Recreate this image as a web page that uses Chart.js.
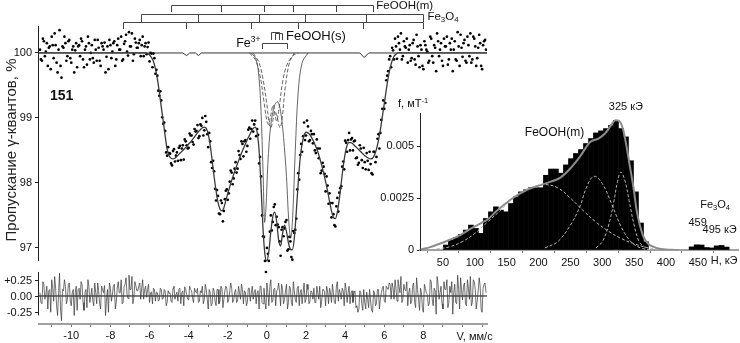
<!DOCTYPE html>
<html>
<head>
<meta charset="utf-8">
<script src="https://cdn.jsdelivr.net/npm/chart.js@4.4.1/dist/chart.umd.min.js"></script>
<style>
body{margin:0;background:#fff;}
#wrap{position:relative;width:740px;height:343px;overflow:hidden;}
#main{position:absolute;left:0;top:0;}
#inset{position:absolute;left:380px;top:90px;}
</style>
</head>
<body>
<div id="wrap">
<canvas id="main" width="740" height="343"></canvas>
<canvas id="inset" width="360" height="185"></canvas>
</div>
<script>
// Mössbauer spectrum, sample 151 : velocity (mm/s) / transmission (%)
// channels of the first half
var vel = [-11.6,-11.5,-11.4,-11.3,-11.2,-11.1,-11,-10.9,-10.8,-10.7,
  -10.6,-10.5,-10.4,-10.3,-10.2,-10.1,-10,-9.9,-9.8,-9.7,
  -9.6,-9.5,-9.4,-9.3,-9.2,-9.1,-9,-8.9,-8.8,-8.7,
  -8.6,-8.5,-8.4,-8.3,-8.2,-8.1,-8,-7.9,-7.8,-7.7,
  -7.6,-7.5,-7.4,-7.3,-7.2,-7.1,-7,-6.9,-6.8,-6.7,
  -6.6,-6.5,-6.4,-6.3,-6.2,-6.1,-6,-5.9,-5.8,-5.7,
  -5.6,-5.5,-5.4,-5.3,-5.2,-5.1,-5,-4.9,-4.8,-4.7,
  -4.6,-4.5,-4.4,-4.3,-4.2,-4.1,-4,-3.9,-3.8,-3.7,
  -3.6,-3.5,-3.4,-3.3,-3.2,-3.1,-3,-2.9,-2.8,-2.7,
  -2.6,-2.5,-2.4,-2.3,-2.2,-2.1,-2,-1.9,-1.8,-1.7,
  -1.6,-1.5,-1.4,-1.3,-1.2,-1.1,-1,-0.9,-0.8,-0.7,
  -0.6,-0.5,-0.4,-0.3,-0.2,-0.1,0,0.1,0.2,0.3,
  0.4,0.5,0.6,0.7,0.8,0.9,1,1.1,1.2,1.3,
  1.4,1.5,1.6,1.7,1.8,1.9,2,2.1,2.2,2.3,
  2.4,2.5,2.6,2.7,2.8,2.9,3,3.1,3.2,3.3,
  3.4,3.5,3.6,3.7,3.8,3.9,4,4.1,4.2,4.3,
  4.4,4.5,4.6,4.7,4.8,4.9,5,5.1,5.2,5.3,
  5.4,5.5,5.6,5.7,5.8,5.9,6,6.1,6.2,6.3,
  6.4,6.5,6.6,6.7,6.8,6.9,7,7.1,7.2,7.3,
  7.4,7.5,7.6,7.7,7.8,7.9,8,8.1,8.2,8.3,
  8.4,8.5,8.6,8.7,8.8,8.9,9,9.1,9.2,9.3,
  9.4,9.5,9.6,9.7,9.8,9.9,10,10.1,10.2,10.3,
  10.4,10.5,10.6,10.7,10.8,10.9,11,11.1,11.2];
var trans = [100.05,99.88,100.18,100.02,99.8,100.1,100.25,99.92,100.12,99.7,
  100.35,99.62,100.08,100.15,99.95,100.2,99.85,100.1,100.04,99.78,
  100.12,100.22,99.9,100.05,99.82,100.15,100.0,99.92,100.2,99.88,
  100.08,99.8,100.1,100.16,99.94,99.75,100.12,100.02,100.18,99.9,
  100.22,100.05,99.88,100.14,100.28,99.96,100.1,100.3,99.98,100.16,
  100.08,100.2,100.12,99.95,100.15,100.09,99.87,99.99,99.99,99.68,
  99.65,99.34,99.27,98.91,98.8,98.42,98.46,98.3,98.49,98.33,
  98.47,98.54,98.35,98.58,98.67,98.58,98.54,98.73,98.63,98.83,
  98.8,98.69,98.9,99.0,98.81,98.94,98.55,98.64,98.23,98.18,
  97.73,97.8,97.52,97.69,97.57,97.88,97.74,98.02,98.16,98.07,
  98.32,98.22,98.43,98.64,98.41,98.66,98.57,98.85,98.83,98.79,
  98.96,98.83,98.3,98.1,97.18,96.8,97.0,96.8,97.5,97.4,
  97.67,97.48,97.32,96.88,97.32,97.3,97.43,96.98,97.1,96.82,
  97.23,97.45,98.15,98.43,98.48,98.93,98.73,98.87,98.66,98.75,
  98.75,98.46,98.53,98.53,98.19,98.25,97.87,97.96,97.84,97.47,
  97.52,97.33,97.77,97.85,97.95,98.33,98.65,98.48,98.77,98.67,
  98.5,98.65,98.39,98.31,98.53,98.23,98.32,98.46,98.2,98.29,
  98.13,98.48,98.4,98.75,98.77,99.14,99.14,99.58,99.72,99.95,
  100.08,99.9,100.1,100.25,100.05,99.9,100.18,100.08,99.85,100.12,
  99.92,100.2,99.82,100.1,99.78,100.05,99.75,100.12,100.02,99.88,
  100.22,99.85,100.08,100.3,99.95,100.15,99.8,100.1,100.25,99.9,
  100.05,99.72,100.18,99.88,100.1,100.28,99.94,100.2,99.85,100.12,
  100.3,99.9,100.22,99.8,100.08,100.15,99.75,100.18,100.05];
var resid = [0.05,-0.12,0.18,0.02,-0.2,0.1,0.25,-0.08,0.12,-0.3,
  0.35,-0.38,0.08,0.15,-0.05,0.2,-0.15,0.1,0.04,-0.22,
  0.12,0.22,-0.1,0.05,-0.18,0.15,0.0,-0.08,0.2,-0.12,
  0.08,-0.2,0.1,0.16,-0.06,-0.25,0.12,0.02,0.18,-0.1,
  0.22,0.05,-0.12,0.14,0.28,-0.04,0.1,0.3,-0.02,0.16,
  0.08,0.2,0.12,-0.05,0.15,0.1,-0.1,0.06,0.12,-0.08,
  0.05,-0.06,0.1,-0.04,0.08,-0.1,0.04,-0.08,0.12,-0.05,
  0.06,0.1,-0.12,0.08,0.14,0.02,-0.06,0.1,-0.04,0.12,
  0.05,-0.1,0.08,0.15,-0.05,0.1,-0.2,0.06,-0.12,0.08,
  -0.15,0.1,-0.08,0.12,-0.05,0.15,-0.1,0.08,0.12,-0.06,
  0.1,-0.08,0.05,0.18,-0.12,0.06,-0.1,0.12,0.04,-0.05,
  0.1,0.05,-0.2,0.15,-0.12,-0.1,0.2,-0.15,0.25,-0.08,
  0.12,0.08,0.2,-0.15,0.1,-0.05,0.18,-0.1,0.12,-0.15,
  0.08,-0.1,0.15,0.05,-0.12,0.2,-0.05,0.1,-0.08,0.06,
  0.12,-0.1,0.05,0.15,-0.08,0.1,-0.15,0.08,0.12,-0.1,
  0.05,-0.12,0.22,0.1,-0.05,0.08,0.2,-0.1,0.15,0.05,
  -0.1,0.08,-0.15,-0.2,0.05,-0.22,-0.1,0.06,-0.18,-0.08,
  -0.25,0.05,-0.12,0.1,-0.05,0.12,-0.08,0.15,0.1,0.18,
  0.2,-0.05,0.12,0.25,0.05,-0.1,0.18,0.08,-0.15,0.12,
  -0.08,0.2,-0.18,0.1,-0.22,0.05,-0.25,0.12,0.02,-0.12,
  0.22,-0.15,0.08,0.3,-0.05,0.15,-0.2,0.1,0.25,-0.1,
  0.05,-0.28,0.18,-0.12,0.1,0.28,-0.06,0.2,-0.15,0.12,
  0.3,-0.1,0.22,-0.2,0.08,0.15,-0.25,0.18,0.05];
// channels of the second half
var vel2 = [-11.55,-11.45,-11.35,-11.25,-11.15,-11.05,-10.95,-10.85,-10.75,-10.65,
  -10.55,-10.45,-10.35,-10.25,-10.15,-10.05,-9.95,-9.85,-9.75,-9.65,
  -9.55,-9.45,-9.35,-9.25,-9.15,-9.05,-8.95,-8.85,-8.75,-8.65,
  -8.55,-8.45,-8.35,-8.25,-8.15,-8.05,-7.95,-7.85,-7.75,-7.65,
  -7.55,-7.45,-7.35,-7.25,-7.15,-7.05,-6.95,-6.85,-6.75,-6.65,
  -6.55,-6.45,-6.35,-6.25,-6.15,-6.05,-5.95,-5.85,-5.75,-5.65,
  -5.55,-5.45,-5.35,-5.25,-5.15,-5.05,-4.95,-4.85,-4.75,-4.65,
  -4.55,-4.45,-4.35,-4.25,-4.15,-4.05,-3.95,-3.85,-3.75,-3.65,
  -3.55,-3.45,-3.35,-3.25,-3.15,-3.05,-2.95,-2.85,-2.75,-2.65,
  -2.55,-2.45,-2.35,-2.25,-2.15,-2.05,-1.95,-1.85,-1.75,-1.65,
  -1.55,-1.45,-1.35,-1.25,-1.15,-1.05,-0.95,-0.85,-0.75,-0.65,
  -0.55,-0.45,-0.35,-0.25,-0.15,-0.05,0.05,0.15,0.25,0.35,
  0.45,0.55,0.65,0.75,0.85,0.95,1.05,1.15,1.25,1.35,
  1.45,1.55,1.65,1.75,1.85,1.95,2.05,2.15,2.25,2.35,
  2.45,2.55,2.65,2.75,2.85,2.95,3.05,3.15,3.25,3.35,
  3.45,3.55,3.65,3.75,3.85,3.95,4.05,4.15,4.25,4.35,
  4.45,4.55,4.65,4.75,4.85,4.95,5.05,5.15,5.25,5.35,
  5.45,5.55,5.65,5.75,5.85,5.95,6.05,6.15,6.25,6.35,
  6.45,6.55,6.65,6.75,6.85,6.95,7.05,7.15,7.25,7.35,
  7.45,7.55,7.65,7.75,7.85,7.95,8.05,8.15,8.25,8.35,
  8.45,8.55,8.65,8.75,8.85,8.95,9.05,9.15,9.25,9.35,
  9.45,9.55,9.65,9.75,9.85,9.95,10.05,10.15,10.25,10.35,
  10.45,10.55,10.65,10.75,10.85,10.95,11.05,11.15];
var trans2 = [99.9,100.22,99.95,100.15,100.08,99.75,100.12,100.3,99.85,100.05,
  99.8,100.1,100.25,99.88,100.18,99.92,100.05,99.7,100.15,100.1,
  99.95,100.18,99.78,100.1,100.25,99.9,100.12,99.85,100.05,100.2,
  99.88,100.15,100.05,99.7,100.1,100.2,99.92,100.15,99.8,100.12,
  100.05,100.25,99.9,100.18,100.02,100.32,100.1,99.88,100.22,100.08,
  100.15,99.95,100.25,100.1,99.98,100.16,100.0,99.78,99.92,99.74,
  99.42,99.41,99.01,98.93,98.47,98.55,98.45,98.27,98.52,98.42,
  98.34,98.57,98.53,98.36,98.64,98.53,98.76,98.73,98.59,98.79,
  98.89,98.72,98.88,98.73,99.03,98.75,98.77,98.32,98.34,97.91,
  97.89,97.53,97.73,97.41,97.75,97.9,97.84,98.19,97.98,98.22,
  98.16,98.49,98.37,98.6,98.64,98.48,98.82,98.68,98.96,98.9,
  98.72,98.74,98.4,97.5,97.17,96.63,96.91,97.25,97.27,97.63,
  97.35,97.36,97.1,97.28,97.18,97.4,96.96,97.17,96.86,97.26,
  97.28,97.9,98.05,98.6,98.72,98.66,98.96,98.64,98.8,98.61,
  98.5,98.67,98.38,98.15,98.31,98.14,98.1,97.68,97.69,97.69,
  97.35,97.64,97.56,97.92,98.25,98.21,98.62,98.66,98.5,98.69,
  98.64,98.38,98.28,98.58,98.35,98.54,98.21,98.34,98.48,98.15,
  98.48,98.32,98.68,98.53,98.97,99.27,99.23,99.65,99.9,99.78,
  100.04,100.22,99.91,100.15,100.3,99.95,100.1,100.22,100.05,99.88,
  100.15,99.9,100.28,99.95,100.12,99.8,100.18,100.05,99.85,100.25,
  99.95,100.12,99.72,100.18,100.05,99.88,100.22,100.1,99.82,100.15,
  100.22,100.05,99.9,100.32,99.8,100.08,100.15,99.88,100.25,99.95,
  99.85,100.25,100.1,99.92,100.28,99.8,100.12,100.2];
var resid2 = [-0.1,0.22,-0.05,0.15,0.08,-0.25,0.12,0.3,-0.15,0.05,
  -0.2,0.1,0.25,-0.12,0.18,-0.08,0.05,-0.3,0.15,0.1,
  -0.05,0.18,-0.22,0.1,0.25,-0.1,0.12,-0.15,0.05,0.2,
  -0.12,0.15,0.05,-0.3,0.1,0.2,-0.08,0.15,-0.2,0.12,
  0.05,0.25,-0.1,0.18,0.02,0.32,0.1,-0.12,0.22,0.08,
  0.15,-0.05,0.25,0.1,-0.02,0.18,0.05,-0.12,0.1,0.06,
  -0.08,0.12,-0.05,0.1,-0.15,0.08,0.05,-0.1,0.15,0.02,
  -0.08,0.12,0.05,-0.15,0.1,-0.05,0.15,0.08,-0.1,0.06,
  0.12,-0.08,0.05,-0.12,0.18,-0.05,0.1,-0.15,0.12,-0.08,
  0.1,-0.12,0.15,-0.18,0.08,0.12,-0.05,0.2,-0.1,0.05,
  -0.1,0.15,-0.05,0.1,0.08,-0.15,0.12,-0.08,0.15,0.05,
  -0.12,0.08,0.15,-0.1,0.12,-0.2,0.05,0.15,-0.1,0.1,
  -0.15,0.1,0.05,0.18,-0.12,0.08,-0.2,0.15,-0.1,0.22,
  -0.05,0.12,-0.15,0.1,0.05,-0.1,0.18,-0.12,0.08,-0.05,
  -0.1,0.15,-0.05,-0.18,0.1,0.05,0.15,-0.12,0.05,0.18,
  -0.1,0.15,-0.08,0.05,0.12,-0.15,0.1,0.05,-0.12,0.08,
  0.05,-0.18,-0.25,0.08,-0.12,0.1,-0.2,-0.05,0.1,-0.22,
  0.08,-0.15,0.1,-0.2,0.05,0.15,-0.1,0.12,0.2,-0.05,
  0.12,0.25,-0.08,0.15,0.3,-0.05,0.1,0.22,0.05,-0.12,
  0.15,-0.1,0.28,-0.05,0.12,-0.2,0.18,0.05,-0.15,0.25,
  -0.05,0.12,-0.28,0.18,0.05,-0.12,0.22,0.1,-0.18,0.15,
  0.22,0.05,-0.1,0.32,-0.2,0.08,0.15,-0.12,0.25,-0.05,
  -0.15,0.25,0.1,-0.08,0.28,-0.2,0.12,0.2];

// fitted envelope
var fitV = [-11.65,-6.3,
  -6.2,-6.1,-6,-5.9,-5.8,-5.7,-5.6,-5.5,-5.4,-5.3,
  -5.2,-5.1,-5,-4.9,-4.8,-4.7,-4.6,-4.5,-4.4,-4.3,
  -4.2,-4.1,-4,-3.9,-3.8,-3.7,-3.6,-3.5,-3.4,-3.3,
  -3.2,-3.1,-3,-2.9,-2.8,-2.7,-2.6,-2.5,-2.4,-2.3,
  -2.2,-2.1,-2,-1.9,-1.8,-1.7,-1.6,-1.5,-1.4,-1.3,
  -1.2,-1.1,-1,-0.9,-0.8,-0.7,-0.6,-0.5,-0.4,-0.3,
  -0.2,-0.1,0,0.1,0.2,0.3,0.4,0.5,0.6,0.7,
  0.8,0.9,1,1.1,1.2,1.3,1.4,1.5,1.6,1.7,
  1.8,1.9,2,2.1,2.2,2.3,2.4,2.5,2.6,2.7,
  2.8,2.9,3,3.1,3.2,3.3,3.4,3.5,3.6,3.7,
  3.8,3.9,4,4.1,4.2,4.3,4.4,4.5,4.6,4.7,
  4.8,4.9,5,5.1,5.2,5.3,5.4,5.5,5.6,5.7,
  5.8,5.9,6,6.1,6.2,6.3,6.4,6.5,6.6,6.7,
  11.25];
var fitT = [100,100,
  100,99.99,99.97,99.93,99.87,99.76,99.6,99.4,99.17,98.95,
  98.72,98.52,98.42,98.38,98.37,98.38,98.41,98.44,98.47,98.5,
  98.53,98.56,98.6,98.63,98.67,98.71,98.75,98.79,98.82,98.85,
  98.86,98.84,98.75,98.58,98.35,98.1,97.88,97.7,97.6,97.57,
  97.62,97.73,97.84,97.94,98.04,98.13,98.22,98.3,98.38,98.46,
  98.53,98.6,98.67,98.73,98.79,98.84,98.86,98.78,98.5,97.95,
  97.3,96.9,96.8,96.95,97.25,97.48,97.55,97.4,97.12,97.03,
  97.22,97.35,97.25,97.08,96.98,96.97,97.15,97.55,98.0,98.38,
  98.6,98.73,98.78,98.77,98.74,98.69,98.63,98.56,98.48,98.38,
  98.27,98.15,98.02,97.88,97.72,97.57,97.47,97.45,97.55,97.75,
  98.0,98.25,98.45,98.58,98.62,98.62,98.6,98.57,98.54,98.51,
  98.48,98.45,98.42,98.4,98.38,98.37,98.38,98.43,98.52,98.65,
  98.82,99.02,99.22,99.43,99.62,99.77,99.88,99.95,99.98,100,
  100];

// sub-spectra
var baseV = [-11.65,-4.3,-4.1,-3.95,-3.65,-3.5,-3.35,4.75,4.97,5.2,11.25];
var baseT = [100,100,99.96,100,100,99.96,100,100,99.93,100,100];
var compSV = [-0.8,-0.55,-0.4,-0.3,-0.2,-0.12,-0.05,0.05,0.2,0.4,0.55,0.7,0.85,1.0,1.12,1.22,1.32,1.45,1.6,1.8,2.1];
var compST = [100,99.9,99.6,99.1,98.2,97.4,97.6,98.3,98.9,99.2,99.25,99.1,98.7,98.1,97.4,97.15,97.5,98.5,99.4,99.85,100];
var compD1V = [-0.7,-0.4,-0.2,0,0.12,0.2,0.3,0.4,0.5,0.6,0.68,0.78,0.95,1.15,1.4];
var compD1T = [100,99.85,99.6,99.2,98.9,98.85,98.95,99.1,99.05,98.9,98.85,99.0,99.5,99.85,100];
var compD2V = [-0.9,-0.6,-0.35,-0.15,0,0.08,0.2,0.32,0.42,0.5,0.6,0.8,1.0,1.3,1.6];
var compD2T = [100,99.9,99.65,99.25,98.95,98.9,99.05,99.2,99.05,98.95,99.1,99.55,99.8,99.95,100];

// line positions (stick diagrams), mm/s
var stickFeOOHm = [-4.92,-2.36,-0.15,1.33,3.54,5.44];
var stickFe3O4B = [-6.46,-3.54,-0.41,1.95,5.08,8.0];
var stickFe3O4A = [-7.38,-4.15,-0.82,1.59,4.92,8.0];
var bracketFe3 = [-0.26,1.03];
var bracketFeOOHsA = [0.2,0.62];
var bracketFeOOHsB = [0.41,0.77];

var velRange = [-11.65, 11.25];
var transRange = [95.83, 100.415];
var residRange = [-0.431, 4.154];
var mainYTicks = [97, 98, 99, 100];
var mainAxisSpan = [96.8, 100.415];
var residTicks = [0.25, 0, -0.25];
var residLabels = ['+0.25', '0.00', '-0.25'];
var residAxisSpan = [-0.3, 0.37];

// inset: hyperfine field distribution
var histH = [54.6,62.5,70.3,78.2,86,93.9,101.7,109.6,117.4,125.3,133.1,141,148.8,156.7,164.5,172.4,180.2,188.1,195.9,203.8,
  211.6,219.5,227.3,235.2,243,250.9,258.7,266.6,274.4,282.3,290.1,298,305.8,313.7,321.5,329.4,337.2,345.1,352.9,360.8,368.6,
  440.2,448.1,455.9,463.8,471.6,479.5,487.3,495.2];
var histF = [0.00024,0.00048,0.0006,0.00075,0.00096,0.0012,0.00104,0.0008,0.00152,0.00184,0.00208,0.00192,0.00184,0.00224,0.00256,0.0028,0.0029,0.003,0.003,0.003,
  0.0036,0.0039,0.0039,0.0037,0.0041,0.0044,0.00465,0.00484,0.00513,0.00537,0.00564,0.00574,0.00585,0.006,0.00625,0.00585,0.00545,0.0043,0.0028,0.0013,0.0004,
  0.00015,0.00025,0.00024,0.00012,0.0001,0.0002,0.00022,0.00014];
var envH = [15,30,45,60,77,95,110,120,135,155,170,182,200,218,235,249,265,281,294,304,312,321,327,333,338,343,349,354,359,364,372,380,390,405,420];
var envF = [0.00002,0.00014,0.0003,0.00048,0.00072,0.00105,0.0013,0.00147,0.0019,0.0024,0.0027,0.0029,0.0031,0.00328,0.0035,0.0039,0.0045,0.0052,0.00537,0.0056,0.00593,0.00625,0.0062,0.00577,0.005,0.0041,0.003,0.0019,0.0012,0.00068,0.0003,0.00016,0.00006,0.00001,0];
var g1H = [40,60,80,100,120,140,160,180,200,210,230,250,270,290,310,330,350,370,390];
var g1F = [0.00005,0.00015,0.0004,0.0008,0.00135,0.0019,0.0025,0.0029,0.00313,0.00316,0.003,0.0025,0.0019,0.00135,0.0009,0.00055,0.0003,0.00012,0.00003];
var g2H = [210,230,250,265,275,287,300,315,330,345,360,375];
var g2F = [0.0001,0.0004,0.0012,0.0021,0.003,0.00355,0.0032,0.0022,0.0011,0.0004,0.0001,0.00002];
var g3H = [290,300,310,318,324,329,335,342,350,358,368];
var g3F = [0.0001,0.0004,0.0012,0.0023,0.0033,0.00375,0.0034,0.0024,0.0012,0.0004,0.0001];
var fieldRange = [14, 513];
var densRange = [0, 0.0066];
var insetXTicks = [50, 100, 150, 200, 250, 300, 350, 400, 450, 500];
var insetYTicks = [0, 0.0025, 0.005];
var insetYLabels = ['0', '0.0025', '0.005'];

var FAM = '"Liberation Sans", Arial, sans-serif';

function pts(xs, ys) {
  return xs.map(function(x, i){ return {x: x, y: ys[i]}; });
}

// both halves together, in velocity order
var allPts = [], residPts = [];
vel.forEach(function(v, i){
  allPts.push({x: v, y: trans[i]});
  residPts.push({x: v, y: resid[i]});
  if (i < vel2.length) {
    allPts.push({x: vel2[i], y: trans2[i]});
    residPts.push({x: vel2[i], y: resid2[i]});
  }
});

// text with sub/superscripts: parts = [[text, shift]], shift 1 = sub, -1 = sup
function richText(ctx, parts, x, y, size, align) {
  var w = 0;
  parts.forEach(function(p){
    ctx.font = (p[1] ? size * 0.68 : size) + 'px ' + FAM;
    w += ctx.measureText(p[0]).width;
  });
  var cx = align === 'right' ? x - w : (align === 'center' ? x - w / 2 : x);
  ctx.textAlign = 'left';
  ctx.textBaseline = 'middle';
  parts.forEach(function(p){
    ctx.font = (p[1] ? size * 0.68 : size) + 'px ' + FAM;
    var dy = p[1] > 0 ? size * 0.28 : (p[1] < 0 ? -size * 0.32 : 0);
    ctx.fillText(p[0], cx, y + dy);
    cx += ctx.measureText(p[0]).width;
  });
}

function seg(ctx, x1, y1, x2, y2) {
  ctx.beginPath(); ctx.moveTo(x1, y1); ctx.lineTo(x2, y2); ctx.stroke();
}

var mainDecor = {
  id: 'mainDecor',
  afterDraw: function(chart) {
    var ctx = chart.ctx, sx = chart.scales.x, sy = chart.scales.y, sr = chart.scales.yr;
    var left = chart.chartArea.left;
    ctx.save();
    ctx.strokeStyle = '#222';
    ctx.fillStyle = '#111';
    ctx.lineWidth = 1;
    // y axis lines (main and residual)
    seg(ctx, left - 0.5, sy.getPixelForValue(mainAxisSpan[1]), left - 0.5, sy.getPixelForValue(mainAxisSpan[0]));
    seg(ctx, left - 0.5, sr.getPixelForValue(residAxisSpan[1]), left - 0.5, sr.getPixelForValue(residAxisSpan[0]));
    ctx.font = '11px ' + FAM;
    ctx.textAlign = 'right';
    ctx.textBaseline = 'middle';
    residTicks.forEach(function(t, i){
      var py = Math.round(sr.getPixelForValue(t)) + 0.5;
      seg(ctx, left - 4, py, left, py);
      ctx.fillText(residLabels[i], left - 7, py);
    });
    // stick diagrams
    var rows = [
      {pos: stickFeOOHm, top: 5.5, bot: 12},
      {pos: stickFe3O4B, top: 14.5, bot: 22},
      {pos: stickFe3O4A, top: 22.5, bot: 29}
    ];
    ctx.strokeStyle = '#444';
    rows.forEach(function(r){
      var px = r.pos.map(function(v){ return Math.round(sx.getPixelForValue(v)) + 0.5; });
      seg(ctx, px[0], r.top, px[px.length - 1], r.top);
      px.forEach(function(p){ seg(ctx, p, r.top, p, r.bot); });
    });
    ctx.fillStyle = '#111';
    var xm = sx.getPixelForValue(stickFeOOHm[5]);
    richText(ctx, [['FeOOH(m)', 0]], xm + 3, 6, 11.5, 'left');
    var xb = sx.getPixelForValue(stickFe3O4B[5]);
    richText(ctx, [['Fe', 0], ['3', 1], ['O', 0], ['4', 1]], xb + 4, 17, 11.5, 'left');
    // Fe3+ bracket
    var b1 = Math.round(sx.getPixelForValue(bracketFe3[0])) + 0.5;
    var b2 = Math.round(sx.getPixelForValue(bracketFe3[1])) + 0.5;
    ctx.beginPath(); ctx.moveTo(b1, 49); ctx.lineTo(b1, 43.5); ctx.lineTo(b2, 43.5); ctx.lineTo(b2, 49); ctx.stroke();
    richText(ctx, [['Fe', 0], ['3+', -1]], b1 - 2, 44, 12.5, 'right');
    // FeOOH(s) brackets
    [bracketFeOOHsA, bracketFeOOHsB].forEach(function(b, i){
      var a1 = Math.round(sx.getPixelForValue(b[0])) + 0.5;
      var a2 = Math.round(sx.getPixelForValue(b[1])) + 0.5;
      var t = 32.5 + i;
      ctx.beginPath(); ctx.moveTo(a1, 40); ctx.lineTo(a1, t); ctx.lineTo(a2, t); ctx.lineTo(a2, 40); ctx.stroke();
    });
    richText(ctx, [['FeOOH(s)', 0]], sx.getPixelForValue(bracketFeOOHsB[1]) + 4, 36, 13, 'left');
    // sample number
    ctx.font = 'bold 14px ' + FAM;
    ctx.textAlign = 'left';
    ctx.textBaseline = 'middle';
    ctx.fillText('151', 50, 96);
    // axis titles
    ctx.font = '11px ' + FAM;
    ctx.fillText('V, мм/с', sx.getPixelForValue(10) - 6, chart.chartArea.bottom + 13);
    ctx.save();
    ctx.translate(12, 150);
    ctx.rotate(-Math.PI / 2);
    ctx.textAlign = 'center';
    ctx.font = '15px ' + FAM;
    ctx.fillStyle = '#222';
    ctx.fillText('Пропускание γ-квантов, %', 0, 0);
    ctx.restore();
    ctx.restore();
  }
};

new Chart(document.getElementById('main'), {
  type: 'scatter',
  data: {
    datasets: [
      {data: pts(fitV, fitT), showLine: true, borderColor: '#3a3a3a', borderWidth: 1.3, pointRadius: 0, cubicInterpolationMode: 'monotone', order: 0},
      {data: allPts, pointRadius: 1.35, pointBackgroundColor: '#000', pointBorderWidth: 0, order: 1},
      {data: residPts, yAxisID: 'yr', showLine: true, borderColor: '#333', borderWidth: 0.7, pointRadius: 0, order: 2},
      {data: pts(velRange, [0, 0]), yAxisID: 'yr', showLine: true, borderColor: '#000', borderWidth: 1, pointRadius: 0, order: 3},
      {data: pts(baseV, baseT), showLine: true, borderColor: '#333', borderWidth: 1, pointRadius: 0, order: 4},
      {data: pts(compSV, compST), showLine: true, borderColor: '#555', borderWidth: 0.9, pointRadius: 0, tension: 0.35, order: 4},
      {data: pts(compD1V, compD1T), showLine: true, borderColor: '#555', borderWidth: 0.9, borderDash: [4, 2], pointRadius: 0, tension: 0.35, order: 4},
      {data: pts(compD2V, compD2T), showLine: true, borderColor: '#555', borderWidth: 0.9, borderDash: [4, 2], pointRadius: 0, tension: 0.35, order: 4}
    ]
  },
  options: {
    responsive: false,
    animation: false,
    devicePixelRatio: 1,
    layout: {padding: {top: 26, right: 253, left: 0, bottom: 0}},
    plugins: {legend: {display: false}, tooltip: {enabled: false}},
    scales: {
      x: {
        type: 'linear', min: velRange[0], max: velRange[1],
        border: {color: '#a0a0a0', width: 2},
        grid: {drawOnChartArea: false, tickLength: 3, color: '#777'},
        ticks: {
          stepSize: 1, autoSkip: false, maxRotation: 0, includeBounds: false, padding: 2,
          color: '#111', font: {size: 11, family: FAM},
          callback: function(v){ var r = Math.round(v); return (r % 2 === 0 && r !== 10) ? String(r) : ''; }
        },
        afterFit: function(s){ s.height = 19; }
      },
      y: {
        min: transRange[0], max: transRange[1],
        border: {display: false},
        grid: {drawOnChartArea: false, tickLength: 4, color: '#222'},
        afterBuildTicks: function(s){ s.ticks = mainYTicks.map(function(v){ return {value: v}; }); },
        ticks: {color: '#111', font: {size: 11, family: FAM}, padding: 3, callback: function(v){ return String(v); }},
        afterFit: function(s){ s.width = 39; }
      },
      yr: {display: false, min: residRange[0], max: residRange[1]}
    }
  },
  plugins: [mainDecor]
});

var insetDecor = {
  id: 'insetDecor',
  afterDraw: function(chart) {
    var ctx = chart.ctx, sx = chart.scales.x;
    ctx.save();
    ctx.fillStyle = '#111';
    richText(ctx, [['f, мТ', 0], ['-1', -1]], 18, 14, 11, 'left');
    richText(ctx, [['FeOOH(m)', 0]], sx.getPixelForValue(225), 43, 12, 'center');
    richText(ctx, [['325 кЭ', 0]], sx.getPixelForValue(337), 17, 11, 'center');
    richText(ctx, [['Fe', 0], ['3', 1], ['O', 0], ['4', 1]], sx.getPixelForValue(477), 115, 11, 'center');
    richText(ctx, [['459', 0]], sx.getPixelForValue(459) - 6, 133, 11, 'center');
    richText(ctx, [['495 кЭ', 0]], sx.getPixelForValue(495) - 24, 140, 11, 'left');
    richText(ctx, [['H, кЭ', 0]], sx.getPixelForValue(500) - 19, chart.chartArea.bottom + 11, 11, 'left');
    ctx.restore();
  }
};

new Chart(document.getElementById('inset'), {
  type: 'bar',
  data: {
    datasets: [
      {type: 'line', data: pts(envH, envF), borderColor: '#8c8c8c', borderWidth: 2, pointRadius: 0, cubicInterpolationMode: 'monotone', order: 0},
      {type: 'line', data: pts(g1H, g1F), borderColor: '#b5b5b5', borderWidth: 1, borderDash: [3, 2], pointRadius: 0, tension: 0.4, order: 1},
      {type: 'line', data: pts(g2H, g2F), borderColor: '#b5b5b5', borderWidth: 1, borderDash: [3, 2], pointRadius: 0, tension: 0.4, order: 1},
      {type: 'line', data: pts(g3H, g3F), borderColor: '#b5b5b5', borderWidth: 1, borderDash: [3, 2], pointRadius: 0, tension: 0.4, order: 1},
      {type: 'bar', data: pts(histH, histF), backgroundColor: '#000', barPercentage: 1, categoryPercentage: 1, order: 5}
    ]
  },
  options: {
    responsive: false,
    animation: false,
    devicePixelRatio: 1,
    layout: {padding: {top: 23, right: 2, left: 0, bottom: 0}},
    plugins: {legend: {display: false}, tooltip: {enabled: false}},
    scales: {
      x: {
        type: 'linear', min: fieldRange[0], max: fieldRange[1], offset: false,
        border: {color: '#a0a0a0', width: 2},
        grid: {drawOnChartArea: false, tickLength: 3, color: '#777'},
        afterBuildTicks: function(s){ s.ticks = insetXTicks.map(function(v){ return {value: v}; }); },
        ticks: {
          autoSkip: false, maxRotation: 0, padding: 3,
          color: '#111', font: {size: 11, family: FAM},
          callback: function(v){ return v >= 500 ? '' : String(v); }
        },
        afterFit: function(s){ s.height = 25; }
      },
      y: {
        min: densRange[0], max: densRange[1],
        border: {color: '#222', width: 1},
        grid: {drawOnChartArea: false, tickLength: 3, color: '#222'},
        afterBuildTicks: function(s){ s.ticks = insetYTicks.map(function(v){ return {value: v}; }); },
        ticks: {color: '#111', font: {size: 11, family: FAM}, padding: 3,
          callback: function(v){ return insetYLabels[insetYTicks.indexOf(v)]; }},
        afterFit: function(s){ s.width = 40; }
      }
    }
  },
  plugins: [insetDecor]
});
</script>
</body>
</html>
